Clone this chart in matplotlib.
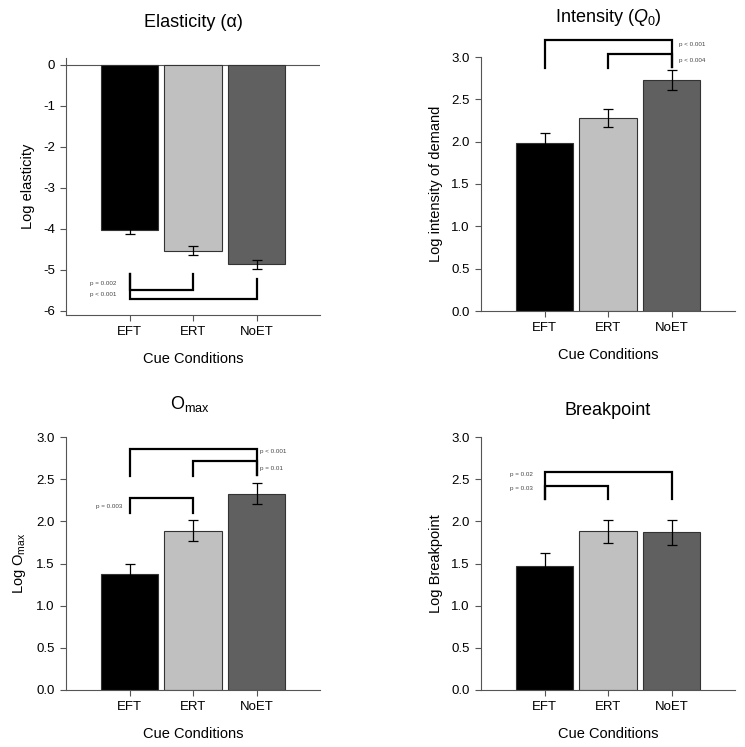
import matplotlib
matplotlib.use('Agg')
import matplotlib.pyplot as plt

plt.rcParams['font.family'] = ['Liberation Sans', 'DejaVu Sans']
plt.rcParams['mathtext.fontset'] = 'custom'
plt.rcParams['mathtext.rm'] = 'Liberation Sans'
plt.rcParams['mathtext.it'] = 'Liberation Sans:italic'

conditions = ['EFT', 'ERT', 'NoET']
bar_colors = ['#000000', '#c0c0c0', '#606060']

elasticity = [-4.02, -4.53, -4.86]
elasticity_err = [0.10, 0.11, 0.11]
intensity = [1.98, 2.28, 2.73]
intensity_err = [0.12, 0.11, 0.12]
omax = [1.38, 1.89, 2.33]
omax_err = [0.12, 0.12, 0.12]
breakpoint_vals = [1.47, 1.88, 1.87]
breakpoint_err = [0.15, 0.14, 0.15]

# brackets: (left bar, right bar, y of bar line, y end left leg, y end right leg, p label, label x, label y)
elasticity_brackets = [
    (0, 1, -5.5, -5.1, -5.1, 'p = 0.002', -0.62, -5.32),
    (0, 2, -5.7, -5.1, -5.22, 'p < 0.001', -0.62, -5.6),
]
intensity_brackets = [
    (0, 2, 3.2, 2.87, 2.88, 'p < 0.001', 2.12, 3.15),
    (1, 2, 3.03, 2.87, 2.88, 'p < 0.004', 2.12, 2.96),
]
omax_brackets = [
    (0, 2, 2.86, 2.54, 2.55, 'p < 0.001', 2.06, 2.83),
    (1, 2, 2.72, 2.54, 2.55, 'p = 0.01', 2.06, 2.63),
    (0, 1, 2.28, 2.10, 2.10, 'p = 0.003', -0.52, 2.18),
]
breakpoint_brackets = [
    (0, 2, 2.59, 2.27, 2.27, 'p = 0.02', -0.55, 2.56),
    (0, 1, 2.42, 2.27, 2.27, 'p = 0.03', -0.55, 2.39),
]

W, H = 745, 747
fig = plt.figure(figsize=(W / 100, H / 100), dpi=100)


def px_axes(l, r, t, b):
    return fig.add_axes([l / W, 1 - b / H, (r - l) / W, (b - t) / H])


def draw_panel(ax, vals, errs, brackets, ylim, yticks, ylabel, ylabelpad, fmt):
    x = range(len(conditions))
    ax.bar(x, vals, width=0.9, color=bar_colors, edgecolor='#333333', linewidth=0.8, zorder=2)
    ax.errorbar(x, vals, yerr=errs, fmt='none', ecolor='black', elinewidth=0.9,
                capsize=3.5, capthick=0.9, zorder=3)
    for a, b, yb, ya, yc, txt, tx, ty in brackets:
        ax.plot([a, a, b, b], [ya, yb, yb, yc], color='black', lw=1.6,
                clip_on=False, zorder=4, solid_joinstyle='miter')
        ax.text(tx, ty, txt, fontsize=4.5, color='#444444', va='center', ha='left')
    ax.set_xlim(-1, 3)
    ax.set_ylim(*ylim)
    ax.set_yticks(yticks)
    ax.set_yticklabels([fmt.format(v) for v in yticks])
    ax.set_xticks(list(x))
    ax.set_xticklabels(conditions)
    ax.spines['top'].set_visible(False)
    ax.spines['right'].set_visible(False)
    for s in ['left', 'bottom']:
        ax.spines[s].set_color('#555555')
        ax.spines[s].set_linewidth(0.8)
    ax.tick_params(direction='out', length=4, width=0.8, color='#555555',
                   labelsize=9.5, pad=4)
    ax.set_xlabel('Cue Conditions', fontsize=10.5, labelpad=10)
    ax.set_ylabel(ylabel, fontsize=10.5, labelpad=ylabelpad)


ax1 = px_axes(66, 320, 58, 315)
draw_panel(ax1, elasticity, elasticity_err, elasticity_brackets, (-6.1, 0.17),
           [0, -1, -2, -3, -4, -5, -6], 'Log elasticity', 6, '{:g}')
ax1.axhline(0, color='#555555', lw=0.8, zorder=1)
ax1.set_yticklabels(['0', '-1', '-2', '-3', '-4', '-5', '-6'])

ax2 = px_axes(481, 735, 57, 311)
draw_panel(ax2, intensity, intensity_err, intensity_brackets, (0, 3.0),
           [0, 0.5, 1.0, 1.5, 2.0, 2.5, 3.0], 'Log intensity of demand', 6, '{:.1f}')

ax3 = px_axes(66, 320, 437, 690)
draw_panel(ax3, omax, omax_err, omax_brackets, (0, 3.0),
           [0, 0.5, 1.0, 1.5, 2.0, 2.5, 3.0], r'Log O$_{\mathrm{max}}$', 6, '{:.1f}')

ax4 = px_axes(481, 735, 437, 690)
draw_panel(ax4, breakpoint_vals, breakpoint_err, breakpoint_brackets, (0, 3.0),
           [0, 0.5, 1.0, 1.5, 2.0, 2.5, 3.0], 'Log Breakpoint', 6, '{:.1f}')

fig.text(193 / W, 1 - 27 / H, 'Elasticity (α)', fontsize=13, ha='center', va='baseline')
fig.text(608 / W, 1 - 22 / H, r'Intensity ($\mathit{Q}_0$)', fontsize=13, ha='center', va='baseline')
fig.text(190 / W, 1 - 409 / H, r'O$_{\mathrm{max}}$', fontsize=13, ha='center', va='baseline')
fig.text(608 / W, 1 - 415 / H, 'Breakpoint', fontsize=13, ha='center', va='baseline')

fig.savefig('out.png', dpi=100)
